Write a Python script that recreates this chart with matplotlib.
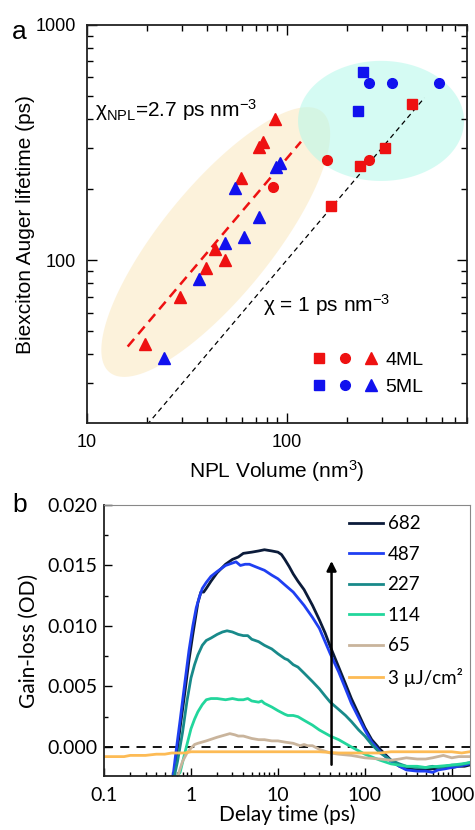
import numpy as np
import matplotlib
matplotlib.use("Agg")
from matplotlib import pyplot as plt
from matplotlib.legend_handler import HandlerTuple
from matplotlib.ticker import FixedLocator, FixedFormatter, LogLocator, NullFormatter, MultipleLocator, FormatStrFormatter

# ---------------- panel a data ----------------
tri4_vol = [87, 76, 73, 59, 43.6, 49, 39.4, 29.2, 19.5]
tri4_tau = [398, 318, 303, 223, 112, 100, 93, 69.6, 44]
tri5_vol = [93, 89, 55, 73, 61, 49, 36.3, 24.3]
tri5_tau = [259, 250, 202, 152, 125, 118, 83, 38.6]
cir4_vol = [85, 160, 260]
cir4_tau = [205, 267, 267]
sq4_vol = [166, 234, 312, 427]
sq4_tau = [170, 251, 300, 461]
sq5_vol = [240, 229]
sq5_tau = [631, 430]
cir5_vol = [260, 339, 582]
cir5_tau = [567, 567, 567]
fit_vol = [16, 118]      # chi_NPL = 2.7 ps nm^-3
fit_tau = [43, 319]
ref_vol = [20, 490]      # chi = 1 ps nm^-3
ref_tau = [20, 490]

# ---------------- panel b data ----------------
t682 = [0.63, 0.68, 0.75, 0.85, 0.95, 1.05, 1.2, 1.3, 1.4, 1.5, 1.7, 2, 2.5, 3, 3.5, 4, 5, 6, 7, 8.5,
        10, 11, 12, 13.5, 15, 17, 20, 25, 30, 35, 40, 50, 60, 70, 85, 100, 120, 150, 200, 250,
        300, 400, 500, 600, 700, 850, 1000, 1200, 1400, 1600]
v682 = [-0.0025, -0.0008, 0.0016, 0.0045, 0.0072, 0.0093, 0.0119, 0.0128, 0.0128, 0.0131, 0.0137, 0.0144,
        0.0151, 0.0155, 0.0157, 0.0160, 0.0161, 0.0162, 0.0163, 0.0162, 0.0161, 0.0159, 0.0155, 0.0149,
        0.0143, 0.0137, 0.0130, 0.0117, 0.0105, 0.0094, 0.0083, 0.0066, 0.0052, 0.0040, 0.0027, 0.0016,
        0.0006, -0.0002, -0.0011, -0.0016, -0.0018, -0.0019, -0.0019, -0.0018, -0.0018, -0.0017, -0.0017,
        -0.0016, -0.0016, -0.0015]
t487 = [0.62, 0.67, 0.75, 0.85, 0.95, 1.05, 1.15, 1.25, 1.35, 1.5, 1.7, 2, 2.5, 3, 3.3, 3.7, 4.2, 4.7, 5.5,
        7, 8.5, 10, 12, 15, 20, 25, 30, 40, 50, 60, 70, 85, 100, 120, 150, 200, 250, 300, 400, 500, 600,
        700, 850, 1000, 1200, 1400, 1600]
v487 = [-0.0025, -0.0005, 0.0022, 0.0053, 0.0080, 0.0100, 0.0115, 0.0124, 0.0131, 0.0136, 0.0141, 0.0145,
        0.0150, 0.0152, 0.0153, 0.0150, 0.0151, 0.0151, 0.0149, 0.0146, 0.0142, 0.0139, 0.0134, 0.0128,
        0.0117, 0.0107, 0.0098, 0.0077, 0.0062, 0.0048, 0.0036, 0.0024, 0.0014, 0.0004, -0.0004, -0.0012,
        -0.0016, -0.0019, -0.0020, -0.0020, -0.0021, -0.0019, -0.0018, -0.0017, -0.0016, -0.0015, -0.0014]
t227 = [0.64, 0.7, 0.8, 0.9, 1.0, 1.1, 1.2, 1.35, 1.5, 1.7, 2, 2.3, 2.6, 3, 3.5, 4, 4.5, 5, 6, 7, 8.5, 10,
        12, 13, 15, 17, 20, 25, 30, 35, 40, 50, 60, 70, 85, 100, 120, 150, 200, 250, 300, 400, 500, 600,
        700, 850, 1000, 1200, 1400, 1600]
v227 = [-0.0025, -0.0012, 0.0012, 0.0038, 0.0057, 0.0068, 0.0076, 0.0084, 0.0088, 0.0090, 0.0093, 0.0095,
        0.0096, 0.0095, 0.0093, 0.0092, 0.0092, 0.0089, 0.0087, 0.0084, 0.0081, 0.0077, 0.0073, 0.0072,
        0.0068, 0.0066, 0.0061, 0.0054, 0.0048, 0.0042, 0.0037, 0.0031, 0.0026, 0.0021, 0.0014, 0.0009,
        0.0002, -0.0005, -0.0011, -0.0014, -0.0016, -0.0017, -0.0017, -0.0016, -0.0017, -0.0016, -0.0015,
        -0.0015, -0.0014, -0.0013]
t114 = [0.68, 0.75, 0.85, 1.0, 1.1, 1.2, 1.35, 1.5, 1.7, 2, 2.5, 3, 3.5, 4, 4.5, 5, 6, 6.5, 7, 8.5, 10, 12,
        13, 15, 17, 20, 25, 30, 40, 50, 70, 100, 150, 200, 300, 400, 500, 700, 1000, 1300, 1600]
v114 = [-0.0025, -0.0021, -0.0005, 0.0015, 0.0023, 0.0029, 0.0035, 0.0039, 0.0040, 0.0040, 0.0039, 0.0040,
        0.0039, 0.0039, 0.0040, 0.0038, 0.0037, 0.0038, 0.0036, 0.0033, 0.0030, 0.0027, 0.0026, 0.0026,
        0.0025, 0.0022, 0.0018, 0.0014, 0.0009, 0.0006, 0.0000, -0.0006, -0.0011, -0.0014, -0.0016,
        -0.0016, -0.0017, -0.0016, -0.0015, -0.0014, -0.0013]
t65 = [0.7, 0.75, 0.8, 0.9, 1.0, 1.1, 1.2, 1.5, 2, 2.5, 2.8, 3.2, 3.5, 4, 5, 6, 7, 8.5, 10, 12, 15, 18, 20,
       22, 25, 30, 40, 50, 70, 100, 150, 200, 250, 300, 400, 500, 600, 800, 1000, 1200, 1600]
v65 = [-0.0025, -0.0018, -0.0012, -0.0005, -0.0001, 0.0002, 0.0003, 0.0005, 0.0008, 0.0010, 0.0011, 0.0010,
       0.0009, 0.0009, 0.0007, 0.0006, 0.0006, 0.0005, 0.0005, 0.0004, 0.0003, 0.0001, 0.0002, 0.0001,
       0.0001, -0.0002, -0.0005, -0.0006, -0.0007, -0.0009, -0.0010, -0.0011, -0.0010, -0.0009, -0.0010,
       -0.0010, -0.0009, -0.0007, -0.0009, -0.0008, -0.0008]
t3 = [0.1, 0.13, 0.17, 0.2, 0.25, 0.3, 0.4, 0.5, 0.6, 0.7, 0.85, 1, 1.3, 1.7, 2, 3, 4, 5, 7, 10, 15, 20, 30,
      50, 70, 100, 150, 200, 300, 500, 700, 1000, 1300, 1600]
v3 = [-0.0008, -0.0008, -0.0008, -0.0007, -0.0007, -0.0007, -0.0006, -0.0006, -0.0005, -0.0005, -0.0005,
      -0.0004, -0.0004, -0.0004, -0.0004, -0.0004, -0.0004, -0.0004, -0.0004, -0.0004, -0.0004, -0.0004,
      -0.0004, -0.0005, -0.0005, -0.0005, -0.0005, -0.0004, -0.0004, -0.0004, -0.0004, -0.0004, -0.0005,
      -0.0004]
fluence_labels = ["682", "487", "227", "114", "65", "3 \u00b5J/cm\u00b2"]
colors_b = ["#0b1b3a", "#1f3ff2", "#188a8a", "#22d69c", "#c9b49c", "#fdbb55"]

RED = "#ee1111"
BLUE = "#1111ee"

plt.rcParams['font.family'] = ['Liberation Sans', 'DejaVu Sans']
plt.rcParams['mathtext.fontset'] = 'custom'
plt.rcParams['mathtext.rm'] = 'Liberation Sans'
plt.rcParams['mathtext.it'] = 'Liberation Sans:italic'

fig = plt.figure(figsize=(4.75, 8.3), dpi=100)

# ================= panel a =================
ax = fig.add_axes([0.183, 0.490, 0.800, 0.480])
ax.set_xscale('log')
ax.set_yscale('log')
ax.set_xlim(10, 800)
ax.set_ylim(20.3, 1000)


def shade(ax, cx, cy, a, b, ang, color, alpha, W=380.0, H=398.0):
    # ellipse given in axes-pixel units, drawn in axes fraction
    tt = np.linspace(0, 2 * np.pi, 200)
    th = np.deg2rad(ang)
    px = a * np.cos(tt) * np.cos(th) - b * np.sin(tt) * np.sin(th)
    py = a * np.cos(tt) * np.sin(th) + b * np.sin(tt) * np.cos(th)
    ax.fill(cx + px / W, cy + py / H, color=color, alpha=alpha, lw=0,
            transform=ax.transAxes, zorder=0)


shade(ax, 0.339, 0.455, 168, 55, 50.8, "#fbeac4", 0.6)
shade(ax, 0.774, 0.759, 83, 60, 0, "#b4f8ea", 0.55)

ax.plot(fit_vol, fit_tau, '--', color=RED, lw=1.8, dashes=(4, 2.5), zorder=2)
ax.plot(ref_vol, ref_tau, '--', color='black', lw=0.9, dashes=(4, 3), zorder=2)

s4, = ax.plot(sq4_vol, sq4_tau, 's', color=RED, ms=6.5, ls='none', zorder=3)
c4, = ax.plot(cir4_vol, cir4_tau, 'o', color=RED, ms=7, ls='none', zorder=3)
t4, = ax.plot(tri4_vol, tri4_tau, '^', color=RED, ms=8, ls='none', zorder=3)
s5, = ax.plot(sq5_vol, sq5_tau, 's', color=BLUE, ms=6.5, ls='none', zorder=3)
c5, = ax.plot(cir5_vol, cir5_tau, 'o', color=BLUE, ms=7, ls='none', zorder=3)
t5, = ax.plot(tri5_vol, tri5_tau, '^', color=BLUE, ms=8, ls='none', zorder=3)

ax.legend([(s4, c4, t4), (s5, c5, t5)], ["4ML", "5ML"],
          handler_map={tuple: HandlerTuple(ndivide=None, pad=0.9)},
          loc='lower left', bbox_to_anchor=(0.58, 0.05), frameon=False,
          fontsize=14, handlelength=3.1, handletextpad=0.5, labelspacing=0.45,
          borderaxespad=0)

ax.xaxis.set_major_locator(FixedLocator([10, 100]))
ax.xaxis.set_major_formatter(FixedFormatter(["10", "100"]))
ax.xaxis.set_minor_locator(LogLocator(base=10, subs=np.arange(2, 10)))
ax.xaxis.set_minor_formatter(NullFormatter())
ax.yaxis.set_major_locator(FixedLocator([100, 1000]))
ax.yaxis.set_major_formatter(FixedFormatter(["100", "1000"]))
ax.yaxis.set_minor_locator(LogLocator(base=10, subs=np.arange(2, 10)))
ax.yaxis.set_minor_formatter(NullFormatter())
ax.tick_params(which='both', direction='in', top=True, right=True, width=1.0)
ax.tick_params(which='major', length=7, labelsize=13, pad=8)
ax.tick_params(which='minor', length=4)
for sp in ax.spines.values():
    sp.set_linewidth(1.3)
    sp.set_color('#222222')

ax.set_xlabel("NPL Volume (nm$^3$)", fontsize=15, labelpad=5)
ax.set_ylabel("Biexciton Auger lifetime (ps)", fontsize=15, labelpad=0)

ax.text(0.021, 0.786, "\u03c7$_{\\mathrm{NPL}}$=2.7 ps nm$^{-3}$", transform=ax.transAxes,
        fontsize=15, va='center', ha='left')
ax.text(0.463, 0.296, "\u03c7 = 1 ps nm$^{-3}$", transform=ax.transAxes,
        fontsize=15, va='center', ha='left')
fig.text(0.025, 0.962, "a", fontsize=19, va='center', ha='left')

# ================= panel b =================
bx = fig.add_axes([0.219, 0.0651, 0.770, 0.3265])
bx.set_xscale('log')
bx.set_xlim(0.1, 1610)
bx.set_ylim(-0.0024, 0.020)

series = [(t682, v682), (t487, v487), (t227, v227), (t114, v114), (t65, v65), (t3, v3)]
for (tt, vv), col, lab in zip(series, colors_b, fluence_labels):
    bx.plot(tt, vv, color=col, lw=2.0, label=lab)
bx.axhline(0, color='black', ls='--', lw=1.3, dashes=(5, 4), zorder=1)
bx.annotate("", xy=(41.4, 0.0156), xytext=(41.4, -0.0017),
            arrowprops=dict(arrowstyle='-|>', color='black', lw=1.8, mutation_scale=14))

bfont = ['Lato', 'DejaVu Sans']
bx.legend(loc='upper left', bbox_to_anchor=(0.67, 0.962), frameon=False,
          handlelength=1.8, handletextpad=0.25, labelspacing=0.72, borderaxespad=0,
          borderpad=0, prop={'family': bfont, 'size': 13.5})

bx.xaxis.set_major_locator(FixedLocator([0.1, 1, 10, 100, 1000]))
bx.xaxis.set_major_formatter(FixedFormatter(["0.1", "1", "10", "100", "1000"]))
bx.xaxis.set_minor_locator(LogLocator(base=10, subs=np.arange(2, 10)))
bx.xaxis.set_minor_formatter(NullFormatter())
bx.yaxis.set_major_locator(MultipleLocator(0.005))
bx.yaxis.set_major_formatter(FormatStrFormatter('%.3f'))
bx.yaxis.set_minor_locator(MultipleLocator(0.0025))
bx.tick_params(which='both', direction='in', width=1.0)
bx.tick_params(which='major', length=6, labelsize=14)
bx.tick_params(axis='x', which='major', pad=8)
bx.tick_params(axis='y', which='major', pad=5)
bx.tick_params(which='minor', length=3)
for lab in bx.get_xticklabels() + bx.get_yticklabels():
    lab.set_family(bfont)
bx.spines['left'].set_color('#222222')
bx.spines['bottom'].set_color('#222222')
bx.spines['left'].set_linewidth(1.3)
bx.spines['bottom'].set_linewidth(1.3)
bx.spines['top'].set_color('#888888')
bx.spines['right'].set_color('#888888')

bx.set_xlabel("Delay time (ps)", fontsize=15, family=bfont, labelpad=0)
bx.set_ylabel("Gain-loss (OD)", fontsize=15, family=bfont, labelpad=6)
fig.text(0.025, 0.392, "b", fontsize=19, va='center', ha='left')

fig.savefig("out.png", dpi=100)
